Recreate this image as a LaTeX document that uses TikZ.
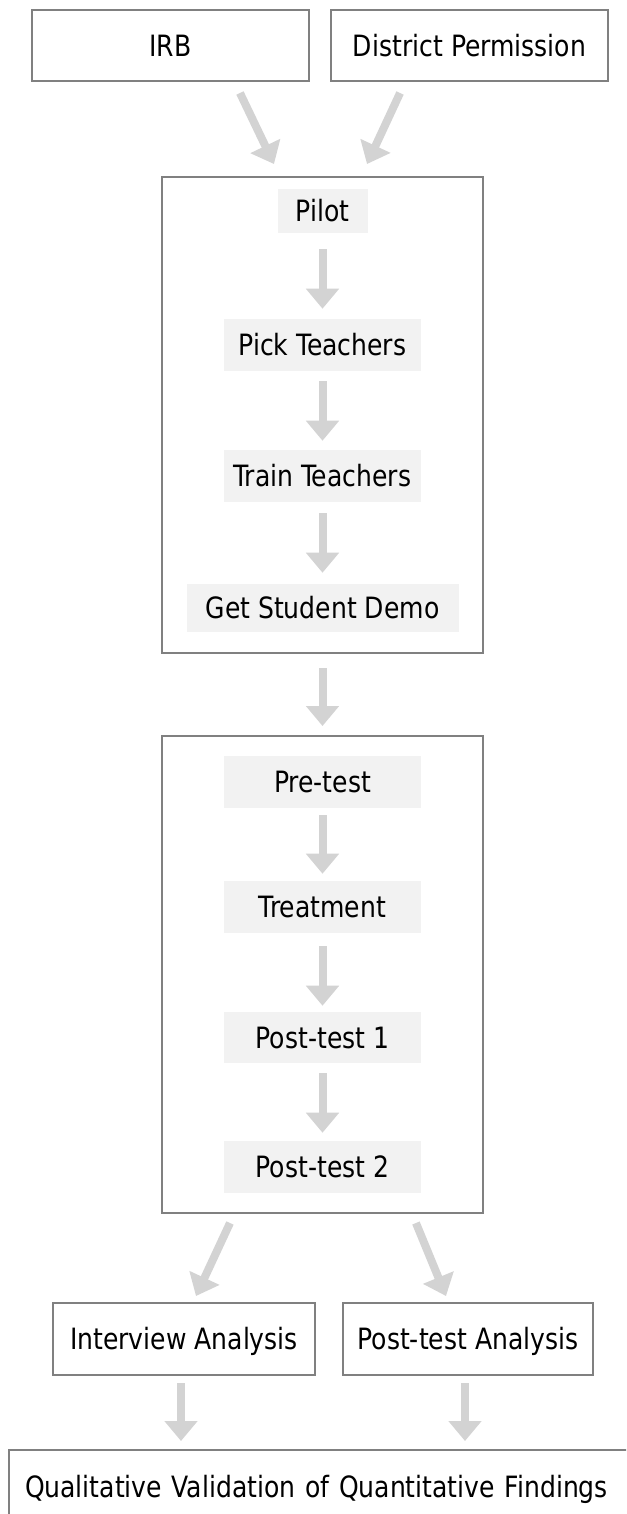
\documentclass[tikz,border=0pt]{standalone}
\usepackage{fontspec}
\setmainfont{DejaVu Sans Condensed}[FakeStretch=0.95]
\usetikzlibrary{arrows.meta}
\definecolor{boxline}{RGB}{128,128,128}
\definecolor{stepfill}{RGB}{242,242,242}
\definecolor{arrowgray}{RGB}{211,211,211}
\tikzset{
  base/.style={inner sep=0pt, text height=16pt, text depth=0pt,
    font=\fontsize{22}{26}\selectfont},
  framebox/.style={base, draw=boxline, line width=1.5pt, fill=white},
  stepbox/.style={base, fill=stepfill, minimum height=39pt},
  flow/.style={draw=arrowgray, line width=6pt,
    -{Triangle[width=24pt,length=15pt]}},
}
\begin{document}
\begin{tikzpicture}[x=0.75pt,y=-0.75pt]
\path[use as bounding box, fill=white] (0,0) rectangle (626,1514);
\clip (0,0) rectangle (626,1514);

% approvals
\node[framebox, minimum width=207.75pt, minimum height=53.25pt] (irb) at (170.5,45.5) {IRB};
\node[framebox, minimum width=207.75pt, minimum height=53.25pt] (district) at (469.5,45.5) {District Permission};

% preparation phase
\node[framebox, minimum width=240.75pt, minimum height=357pt] (prep) at (322.5,415) {};
\node[stepbox, minimum width=67.5pt, minimum height=33pt] (pilot) at (322.5,211) {Pilot};
\node[stepbox, minimum width=147.75pt] (pick) at (322.5,345) {Pick Teachers};
\node[stepbox, minimum width=147.75pt] (train) at (322.5,476) {Train Teachers};
\node[stepbox, minimum width=204pt, minimum height=36pt] (demo) at (322.5,608) {Get Student Demo};

% study phase
\node[framebox, minimum width=240.75pt, minimum height=357.75pt] (study) at (322.5,974.5) {};
\node[stepbox, minimum width=147.75pt] (pre) at (322.5,782) {Pre-test};
\node[stepbox, minimum width=147.75pt] (treat) at (322.5,907) {Treatment};
\node[stepbox, minimum width=147.75pt, minimum height=38.25pt] (postA) at (322.5,1037.5) {Post-test 1};
\node[stepbox, minimum width=147.75pt] (postB) at (322.5,1167) {Post-test 2};

% analyses
\node[framebox, minimum width=196.5pt, minimum height=54pt] (interview) at (184,1339) {Interview Analysis};
\node[framebox, minimum width=187.5pt, minimum height=54pt] (pta) at (468,1339) {Post-test Analysis};
\node[framebox, minimum width=473.25pt, minimum height=55.5pt, text width=449.25pt, align=left] (final) at (324.5,1487) {Qualitative Validation of Quantitative Findings};

% connectors
\draw[flow] ([shift={(52.1pt,-8.25pt)}]irb.south) -- ([shift={(-36.4pt,9pt)}]prep.north);
\draw[flow] ([shift={(-52.1pt,-8.25pt)}]district.south) -- ([shift={(33.4pt,9pt)}]prep.north);

\draw[flow, shorten <=12pt, shorten >=7.5pt] (pilot) -- (pick);
\draw[flow, shorten <=7.5pt, shorten >=6.75pt] (pick) -- (train);
\draw[flow, shorten <=8.25pt, shorten >=8.25pt] (train) -- (demo);

\draw[flow, shorten <=10.5pt, shorten >=6.75pt] (prep) -- (study);

\draw[flow, shorten <=5.25pt, shorten >=5.25pt] (pre) -- (treat);
\draw[flow, shorten <=9.75pt, shorten >=4.5pt] (treat) -- (postA);
\draw[flow, shorten <=7.5pt, shorten >=6pt] (postA) -- (postB);

\draw[flow] ([shift={(-69.4pt,-6.75pt)}]study.south) -- ([shift={(9pt,4.5pt)}]interview.north);
\draw[flow] ([shift={(70.1pt,-6.75pt)}]study.south) -- ([shift={(-16.5pt,4.5pt)}]pta.north);

\draw[flow] ([shift={(-2.25pt,-5.25pt)}]interview.south) -- ([shift={(-2.25pt,6pt)}]interview.south |- final.north);
\draw[flow] ([shift={(-2.25pt,-5.25pt)}]pta.south) -- ([shift={(-2.25pt,6pt)}]pta.south |- final.north);
\end{tikzpicture}
\end{document}
